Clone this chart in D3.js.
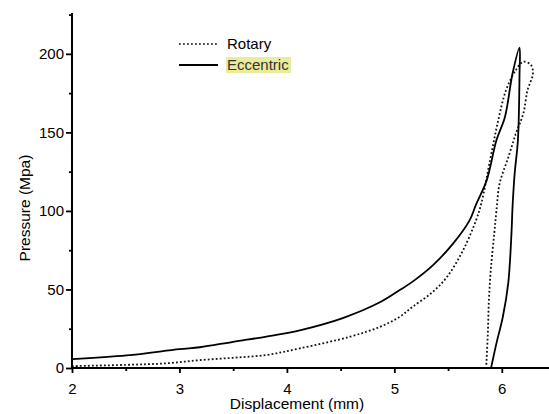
<!DOCTYPE html>
<html>
<head>
<meta charset="utf-8">
<script src="https://cdn.jsdelivr.net/npm/d3@7"></script>
<style>
  body { margin: 0; background: #fff; }
  svg { font-family: "Liberation Sans", Arial, sans-serif; }
</style>
</head>
<body>
<div id="chart"></div>
<script>
// Rotary (dotted) - loading then unloading
var rotaryX = [2.0, 2.5, 2.88, 3.19, 3.5, 3.81, 4.12, 4.59, 4.87, 5.05, 5.17, 5.35, 5.49, 5.64, 5.76, 5.81, 5.89, 5.96, 6.04, 6.13, 6.2, 6.27, 6.29, 6.24, 6.2, 6.13, 6.06, 5.98, 5.95, 5.93, 5.9, 5.88, 5.87, 5.855];
var rotaryY = [1.2, 2.0, 3.0, 5.0, 6.5, 8.3, 12.5, 20, 26.3, 32.6, 39, 48, 58, 75, 94, 105, 132, 155.6, 177, 189.6, 195, 193, 187.5, 177, 162, 149, 134, 117.5, 100, 85.7, 64.4, 43.3, 22, 0.5];
// Eccentric (solid)
var eccX = [2.0, 2.51, 3.0, 3.19, 3.5, 3.81, 4.12, 4.52, 4.87, 5.05, 5.17, 5.36, 5.55, 5.7, 5.76, 5.86, 5.95, 6.03, 6.1, 6.165, 6.165, 6.15, 6.12, 6.1, 6.09, 6.06, 6.01, 5.95, 5.9];
var eccY = [5.7, 8.0, 12, 13.2, 16.7, 20, 24, 31.8, 42, 49.6, 55, 65.5, 79.5, 94, 104, 119.6, 145, 160, 187.5, 204, 187, 145, 124, 102.6, 85.7, 54, 32.6, 15.7, 0];

var xTicks = [2, 3, 4, 5, 6];
var yTicks = [0, 50, 100, 150, 200];

var W = 549, H = 414;
var svg = d3.select("#chart").append("svg").attr("width", W).attr("height", H);

var x = d3.scaleLinear().domain([2, 6.43]).range([72, 548]);
var y = d3.scaleLinear().domain([0, 226]).range([368, 13]);

var line = d3.line().x(function(d){ return x(d[0]); }).y(function(d){ return y(d[1]); }).curve(d3.curveCatmullRom);

svg.append("path")
  .datum(d3.zip(rotaryX, rotaryY))
  .attr("d", line)
  .attr("fill", "none")
  .attr("stroke", "#111")
  .attr("stroke-width", 1.8)
  .attr("stroke-dasharray", "1.8,2.2");

svg.append("path")
  .datum(d3.zip(eccX, eccY))
  .attr("d", line)
  .attr("fill", "none")
  .attr("stroke", "#000")
  .attr("stroke-width", 1.8);

// axes
var xAxis = svg.append("g").attr("transform", "translate(0,368)")
  .call(d3.axisBottom(x).tickValues(xTicks).tickSize(5).tickFormat(d3.format("d")));
svg.append("g").attr("transform", "translate(0,368)")
  .call(d3.axisBottom(x).tickValues([2.5, 3.5, 4.5, 5.5]).tickSize(3).tickFormat(""))
  .select(".domain").remove();
var yAxis = svg.append("g").attr("transform", "translate(72,0)")
  .call(d3.axisLeft(y).tickValues(yTicks).tickSize(6));
svg.append("g").attr("transform", "translate(72,0)")
  .call(d3.axisLeft(y).tickValues([25, 75, 125, 175, 225]).tickSize(3).tickFormat(""))
  .select(".domain").remove();

svg.selectAll(".domain").attr("stroke-width", 2).attr("stroke", "#000");
xAxis.selectAll(".domain").attr("d", "M72,0H549");
yAxis.selectAll(".domain").attr("d", "M0,368V13");
xAxis.selectAll("text").attr("font-size", 15).attr("fill", "#000").attr("y", 15);
yAxis.selectAll("text").attr("font-size", 15).attr("fill", "#000").attr("x", -8);
svg.selectAll(".tick line").attr("stroke-width", 1.8).attr("stroke", "#000");

svg.append("text").attr("x", 297).attr("y", 409).attr("text-anchor", "middle")
  .attr("font-size", 15.5).text("Displacement (mm)");
svg.append("text").attr("transform", "translate(30,208) rotate(-90)").attr("text-anchor", "middle")
  .attr("font-size", 15.5).text("Pressure (Mpa)");

// legend
svg.append("line").attr("x1", 179).attr("x2", 218).attr("y1", 44).attr("y2", 44)
  .attr("stroke", "#111").attr("stroke-width", 1.5).attr("stroke-dasharray", "1.8,2.2");
svg.append("text").attr("x", 227).attr("y", 49).attr("font-size", 15).text("Rotary");
svg.append("line").attr("x1", 179).attr("x2", 218).attr("y1", 65).attr("y2", 65)
  .attr("stroke", "#000").attr("stroke-width", 1.8);
svg.append("rect").attr("x", 226).attr("y", 57).attr("width", 65).attr("height", 16).attr("fill", "#ebeb9c");
svg.append("text").attr("x", 227).attr("y", 70).attr("font-size", 15).attr("fill", "#333").text("Eccentric");
</script>
</body>
</html>
